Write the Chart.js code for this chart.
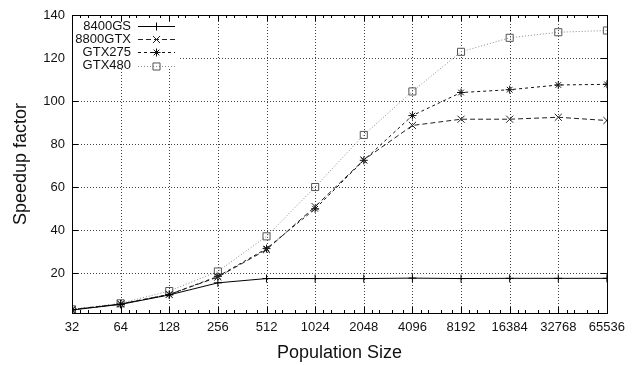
<!DOCTYPE html>
<html>

<head>
    <meta charset="utf-8">
    <title>Speedup</title>
    <script src="https://cdn.jsdelivr.net/npm/chart.js@4.4.0/dist/chart.umd.min.js"></script>
    <style>
        html, body { margin: 0; padding: 0; background: #fff; }
        #wrap { width: 632px; height: 365px; }
    </style>
</head>

<body>
    <div id="wrap"><canvas id="myChart" width="632" height="365"></canvas></div>
    <script>
        // data
        const populations = [32, 64, 128, 256, 512, 1024, 2048, 4096, 8192, 16384, 32768, 65536];
        const gs8400 = [3.0, 5.6, 10.0, 15.6, 17.6, 17.6, 17.6, 17.8, 17.6, 17.7, 17.7, 17.7];
        const gtx8800 = [3.2, 5.8, 10.2, 18.3, 31.0, 51.0, 72.7, 88.7, 91.6, 91.6, 92.5, 91.0];
        const gtx275 = [3.1, 5.8, 10.2, 18.6, 31.5, 50.0, 72.5, 93.3, 104.0, 105.3, 107.5, 107.8];
        const gtx480 = [3.3, 6.1, 11.8, 20.9, 37.2, 60.1, 84.3, 104.5, 122.9, 129.4, 132.0, 132.8];
        const yTicks = [20, 40, 60, 80, 100, 120, 140];
        const minorSteps = [1.125, 1.25, 1.5, 1.75];

        const FONT = '"Liberation Sans", Arial, sans-serif';

        function pts(arr) {
            return arr.map((v, i) => ({ x: populations[i], y: v }));
        }

        function ds(label, arr, style, color, dash, radius) {
            return {
                label: label,
                data: pts(arr),
                borderColor: color,
                borderWidth: 1,
                borderDash: dash,
                pointStyle: style,
                pointRadius: radius,
                pointBorderColor: color,
                pointBackgroundColor: 'rgba(0,0,0,0)',
                pointBorderWidth: 1,
                tension: 0,
                fill: false
            };
        }

        const datasets = [
            ds('8400GS', gs8400, 'cross', '#000', [], 4),
            ds('8800GTX', gtx8800, 'crossRot', '#222', [5, 3], 5),
            ds('GTX275', gtx275, 'star', '#111', [3, 3], 4),
            ds('GTX480', gtx480, 'rect', '#555', [1, 2], 5)
        ];
        datasets[3].borderColor = '#888';

        // dotted grid, border, inward tics and key box, gnuplot style
        const frame = {
            id: 'frame',
            beforeDatasetsDraw(chart) {
                const ctx = chart.ctx;
                const a = chart.chartArea;
                const xs = chart.scales.x, ys = chart.scales.y;
                ctx.save();
                ctx.strokeStyle = '#444';
                ctx.lineWidth = 1;
                ctx.setLineDash([1, 2]);
                ctx.beginPath();
                populations.slice(1, -1).forEach(p => {
                    const x = Math.round(xs.getPixelForValue(p)) + 0.5;
                    ctx.moveTo(x, a.bottom); ctx.lineTo(x, a.top);
                });
                yTicks.slice(0, -1).forEach(v => {
                    const y = Math.round(ys.getPixelForValue(v)) + 0.5;
                    ctx.moveTo(a.left, y); ctx.lineTo(a.right, y);
                });
                ctx.stroke();
                ctx.restore();
            },
            afterDatasetsDraw(chart) {
                const ctx = chart.ctx;
                const a = chart.chartArea;
                const xs = chart.scales.x, ys = chart.scales.y;
                ctx.save();
                ctx.strokeStyle = '#000';
                ctx.lineWidth = 1;
                ctx.setLineDash([]);
                ctx.beginPath();
                populations.forEach((p, i) => {
                    const x = Math.round(xs.getPixelForValue(p)) + 0.5;
                    ctx.moveTo(x, a.bottom); ctx.lineTo(x, a.bottom - 6);
                    ctx.moveTo(x, a.top); ctx.lineTo(x, a.top + 6);
                    if (i < populations.length - 1) {
                        minorSteps.forEach(m => {
                            const mx = Math.round(xs.getPixelForValue(p * m)) + 0.5;
                            ctx.moveTo(mx, a.bottom); ctx.lineTo(mx, a.bottom - 3);
                            ctx.moveTo(mx, a.top); ctx.lineTo(mx, a.top + 3);
                        });
                    }
                });
                yTicks.forEach(v => {
                    const y = Math.round(ys.getPixelForValue(v)) + 0.5;
                    ctx.moveTo(a.left, y); ctx.lineTo(a.left + 6, y);
                    ctx.moveTo(a.right, y); ctx.lineTo(a.right - 6, y);
                });
                ctx.stroke();
                ctx.strokeRect(Math.round(a.left) + 0.5, Math.round(a.top) + 0.5,
                    Math.round(a.right - a.left), Math.round(a.bottom - a.top));

                // key
                ctx.fillStyle = '#fff';
                ctx.fillRect(a.left + 1, a.top + 7, 107, 47);
                ctx.font = '13px ' + FONT;
                ctx.textAlign = 'right';
                ctx.textBaseline = 'middle';
                chart.data.datasets.forEach((d, i) => {
                    const y = a.top + 11 + i * 13.2;
                    ctx.fillStyle = '#111';
                    ctx.fillText(d.label, a.left + 59, y);
                    ctx.strokeStyle = d.borderColor;
                    ctx.setLineDash(d.borderDash);
                    ctx.beginPath();
                    ctx.moveTo(a.left + 66, Math.round(y) + 0.5);
                    ctx.lineTo(a.left + 103, Math.round(y) + 0.5);
                    ctx.stroke();
                    ctx.setLineDash([]);
                    ctx.strokeStyle = d.pointBorderColor;
                    ctx.fillStyle = 'rgba(0,0,0,0)';
                    Chart.helpers.drawPoint(ctx, {
                        pointStyle: d.pointStyle,
                        radius: d.pointRadius,
                        borderWidth: 1,
                        rotation: 0
                    }, a.left + 84.5, Math.round(y) + 0.5);
                });
                ctx.restore();
            }
        };

        const config = {
            type: 'line',
            data: { datasets: datasets },
            options: {
                responsive: false,
                animation: false,
                layout: { padding: { top: 15, right: 16, left: 0, bottom: 0 } },
                plugins: {
                    legend: { display: false },
                    tooltip: { enabled: false }
                },
                scales: {
                    x: {
                        type: 'logarithmic',
                        min: 32,
                        max: 65536,
                        afterBuildTicks: s => { s.ticks = populations.map(v => ({ value: v })); },
                        afterFit: s => { s.height = 52; },
                        ticks: {
                            autoSkip: false,
                            maxRotation: 0,
                            padding: 7,
                            color: '#111',
                            font: { family: FONT, size: 13 },
                            callback: v => String(v)
                        },
                        grid: { display: false, drawTicks: false },
                        border: { display: false },
                        title: {
                            display: true,
                            text: 'Population Size',
                            color: '#111',
                            font: { family: FONT, size: 18 },
                            padding: { top: 0, bottom: 1 }
                        }
                    },
                    y: {
                        min: 1.6,
                        max: 140,
                        afterBuildTicks: s => { s.ticks = yTicks.map(v => ({ value: v })); },
                        afterFit: s => { s.width = 72; },
                        ticks: {
                            padding: 7,
                            color: '#111',
                            font: { family: FONT, size: 13 }
                        },
                        grid: { display: false, drawTicks: false },
                        border: { display: false },
                        title: {
                            display: true,
                            text: 'Speedup factor',
                            color: '#111',
                            font: { family: FONT, size: 18 },
                            padding: { top: 10, bottom: 0 }
                        }
                    }
                }
            },
            plugins: [frame]
        };

        const myChart = new Chart(document.getElementById('myChart'), config);
    </script>
</body>

</html>
